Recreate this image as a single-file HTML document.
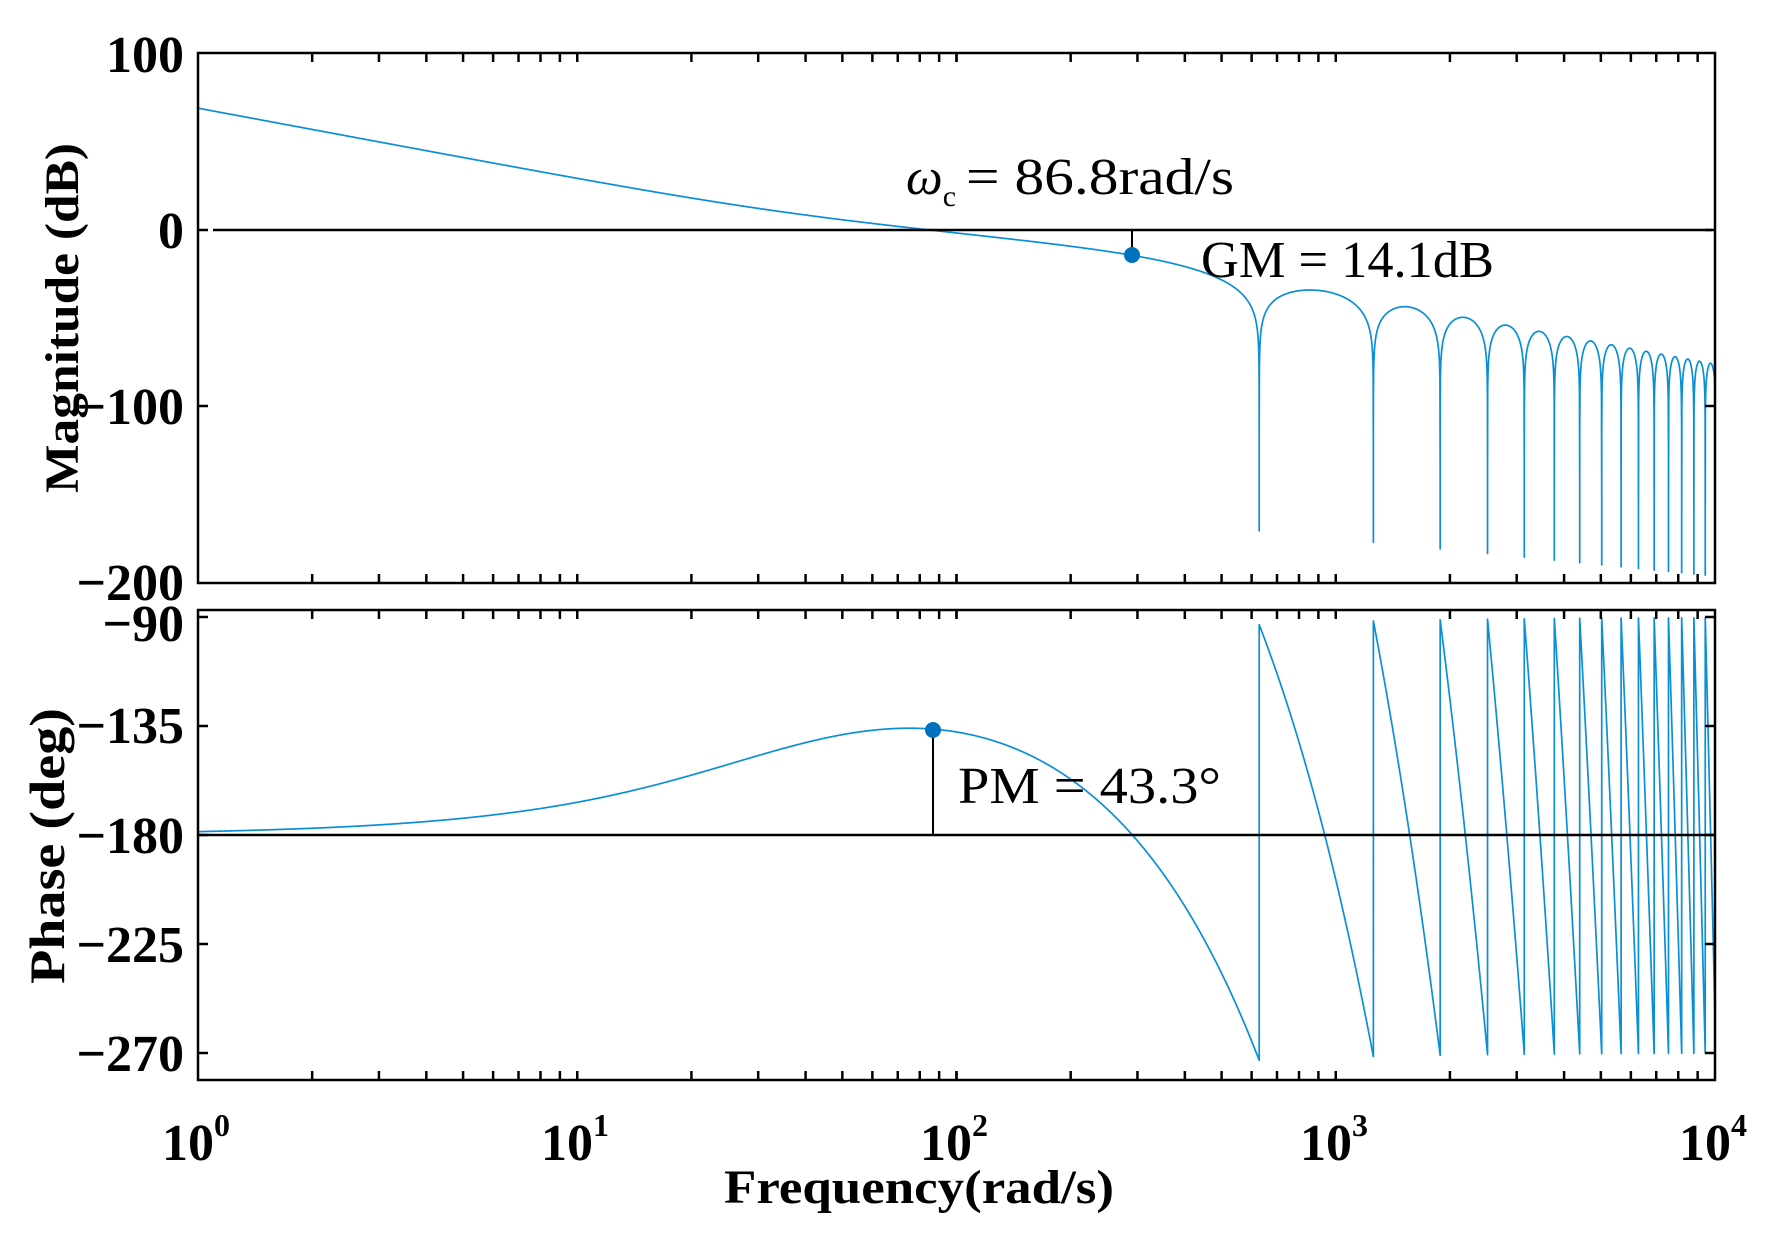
<!DOCTYPE html>
<html><head><meta charset="utf-8">
<style>
html,body{margin:0;padding:0;background:#fff;}
svg{display:block;}
text{font-family:"Liberation Serif","Times New Roman",serif;fill:#000;}
.b{font-weight:bold;}
</style></head>
<body>
<svg id="s" width="1768" height="1236" viewBox="0 0 1768 1236" xmlns="http://www.w3.org/2000/svg">
<rect width="1768" height="1236" fill="#fff"/>
<g id="curves"></g>
<g id="ticks" stroke="#000" stroke-width="2.5"></g>
<line x1="213" y1="230" x2="1712" y2="230" stroke="#000" stroke-width="2.5"/>
<line x1="198" y1="835" x2="1715" y2="835" stroke="#000" stroke-width="2.5"/>
<line x1="1132" y1="230" x2="1132" y2="255" stroke="#000" stroke-width="2"/>
<line x1="933" y1="835" x2="933" y2="730" stroke="#000" stroke-width="2"/>
<circle cx="1132" cy="255" r="8" fill="#0072bd"/>
<circle cx="933" cy="730" r="8" fill="#0072bd"/>
<rect x="198" y="53" width="1517" height="530" fill="none" stroke="#000" stroke-width="2.5"/>
<rect x="198" y="610" width="1517" height="470" fill="none" stroke="#000" stroke-width="2.5"/>
<g class="b" font-size="52" text-anchor="end">
<text x="184" y="72">100</text>
<text x="184" y="248">0</text>
<text x="184" y="424">−100</text>
<text x="184" y="600">−200</text>
<text x="184" y="641">−90</text>
<text x="184" y="743">−135</text>
<text x="184" y="853">−180</text>
<text x="184" y="962">−225</text>
<text x="184" y="1071">−270</text>
</g>
<text class="b" font-size="48" transform="translate(78,318) rotate(-90)" text-anchor="middle" textLength="350" lengthAdjust="spacingAndGlyphs">Magnitude (dB)</text>
<text class="b" font-size="50" transform="translate(64,846) rotate(-90)" text-anchor="middle" textLength="276" lengthAdjust="spacingAndGlyphs">Phase (deg)</text>
<g class="b" font-size="52">
<text x="162" y="1160">10<tspan font-size="32" dy="-24">0</tspan></text>
<text x="541" y="1160">10<tspan font-size="32" dy="-24">1</tspan></text>
<text x="920" y="1160">10<tspan font-size="32" dy="-24">2</tspan></text>
<text x="1300" y="1160">10<tspan font-size="32" dy="-24">3</tspan></text>
<text x="1679" y="1160">10<tspan font-size="32" dy="-24">4</tspan></text>
</g>
<text class="b" font-size="48" x="724" y="1203" textLength="390" lengthAdjust="spacingAndGlyphs">Frequency(rad/s)</text>
<text font-size="52" x="906" y="194"><tspan font-style="italic">ω</tspan><tspan font-size="30" dy="12">c</tspan><tspan dy="-12" dx="10" textLength="268" lengthAdjust="spacingAndGlyphs">= 86.8rad/s</tspan></text>
<text font-size="52" x="1201" y="277" textLength="293" lengthAdjust="spacingAndGlyphs">GM = 14.1dB</text>
<text font-size="52" x="958" y="803" textLength="263" lengthAdjust="spacingAndGlyphs">PM = 43.3°</text>
</svg>
<script>
(function(){
var NS="http://www.w3.org/2000/svg";
var L=198,R=1715,D=(R-L)/4;
function X(w){return L+D*Math.log10(w);}
function YM(db){return 230-db*1.77;}
function YP(p){return 835-(p+180)*2.42;}
var K=2764,z=34,T=0.01,P=2*Math.PI/T;
function mag(w){var a=w*T/2;var s=Math.abs(Math.sin(a)/a);return 20*Math.log10(K*Math.sqrt(1+(w/z)*(w/z))/(w*w)*s);}
function ph(w){return -180+Math.atan(w/z)*180/Math.PI-w*T/2*180/Math.PI+180*Math.floor(w/P);}
var pm=[],pp=[];
var N=6000;
var pts=[];
for(var i=0;i<=N;i++)pts.push(Math.pow(10,4*i/N));
for(var k=1;k<=15;k++){pts.push(k*P-0.01);pts.push(k*P);pts.push(k*P+0.01);}
pts.sort(function(a,b){return a-b;});
for(var j=0;j<pts.length;j++){
 var w=pts[j];if(w>10000)continue;
 var k=Math.round(w/P),m;
 if(k>=1&&Math.abs(w-k*P)<0.005){m=-170-25*Math.log(k)/Math.log(15);}
 else {m=mag(w);var k2=Math.round(w/P);var dmin=-170-25*Math.log(Math.max(k2,1))/Math.log(15);if(m<dmin)m=dmin;}
 pm.push(X(w).toFixed(2)+","+YM(m).toFixed(2));
 var p=ph(w);
 if(k>=1&&Math.abs(w-k*P)<0.005){p=ph(k*P-0.02);}
 pp.push(X(w).toFixed(2)+","+YP(p).toFixed(2));
}
var g=document.getElementById("curves");
function pl(a){var e=document.createElementNS(NS,"polyline");e.setAttribute("points",a.join(" "));e.setAttribute("fill","none");e.setAttribute("stroke","#0a8fd6");e.setAttribute("stroke-width","1.7");e.setAttribute("stroke-linejoin","round");g.appendChild(e);}
pl(pm);pl(pp);
var t=document.getElementById("ticks");
function ln(x1,y1,x2,y2){var e=document.createElementNS(NS,"line");e.setAttribute("x1",x1);e.setAttribute("y1",y1);e.setAttribute("x2",x2);e.setAttribute("y2",y2);t.appendChild(e);}
for(var d=0;d<4;d++)for(var m2=1;m2<=10;m2++){
 var x=X(Math.pow(10,d)*m2);if(x<=L+1||x>=R-1)continue;
 ln(x,53,x,62);ln(x,583,x,574);ln(x,610,x,619);ln(x,1080,x,1071);
}
[230,406].forEach(function(y){ln(L,y,L+10,y);ln(R,y,R-10,y);});
[617,726,835,944,1053].forEach(function(y){ln(L,y,L+10,y);ln(R,y,R-10,y);});
})();
</script>
</body></html>
